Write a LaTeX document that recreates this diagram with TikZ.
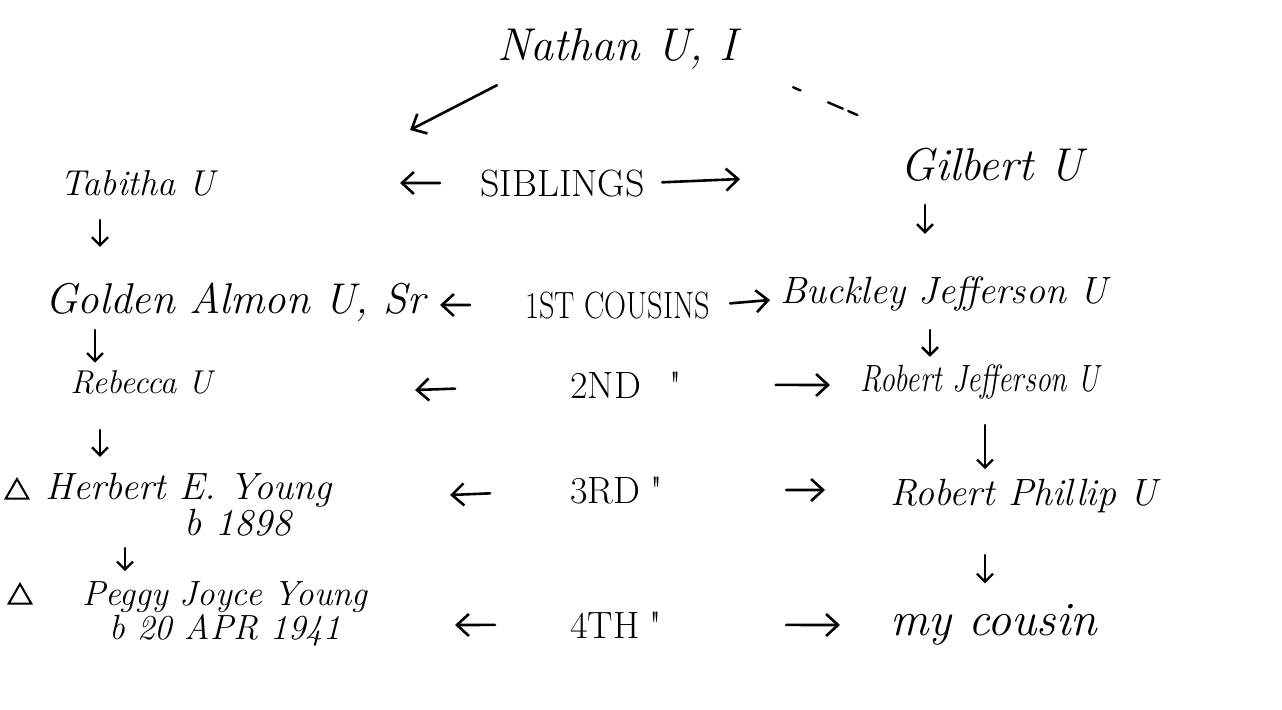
\documentclass[tikz,border=0pt]{standalone}
\usepackage{tikz}
\usetikzlibrary{arrows.meta, positioning, shapes.geometric}

\begin{document}
\begin{tikzpicture}[
    x=0.5pt, y=-0.5pt,
    person/.style={anchor=base west, inner sep=0pt, font=\fontsize{19}{16}\selectfont\itshape},
    kin/.style={anchor=base west, inner sep=0pt, font=\fontsize{19}{22}\selectfont},
    tri/.style={regular polygon, regular polygon sides=3, draw, line width=1pt,
                minimum size=13pt, inner sep=0pt},
    harr/.style={-{Straight Barb[length=6pt, width=11pt]}, line width=1.3pt, line cap=round},
    darr/.style={-{Straight Barb[length=4pt, width=8pt]}, line width=1.2pt, line cap=round},
    faint/.style={line width=1.2pt, line cap=round,
                  dash pattern=on 4pt off 15pt on 8pt off 3pt on 5pt off 40pt},
]
    \useasboundingbox (0,0) rectangle (1282,709);

    % Ancestor
    \node[person, anchor=base, font=\fontsize{23}{26}\selectfont\itshape] (nathan) at (617,60) {Nathan U, I};

    % Left line
    \node[person, font=\fontsize{18}{16}\selectfont\itshape] (tabitha) at (60,195) {Tabitha U};
    \node[person, font=\fontsize{21.5}{16}\selectfont\itshape] (golden) at (45,313) {Golden Almon U, Sr};
    \node[person, font=\fontsize{16.5}{16}\selectfont\itshape] (rebecca) at (70,393) {Rebecca U};
    \node[tri] (triH) at (17,492) {};
    \node[person, anchor=west, align=right] (herbert) at (45,505) {Herbert E. Young\\b 1898\hspace*{20pt}};
    \node[tri] (triP) at (20,597) {};
    \node[person, anchor=center, align=center, font=\fontsize{17.5}{16}\selectfont\itshape] (peggy) at (225,614) {Peggy Joyce Young\\b 20 APR 1941};

    % Right line
    \node[person, font=\fontsize{23}{16}\selectfont\itshape] (gilbert) at (900,180) {Gilbert U};
    \node[person] (buckley) at (780,303) {Buckley Jefferson U};
    \node[person] (robertj) at (860,391) {\scalebox{0.78}[1]{Robert Jefferson U}};
    \node[person] (robertp) at (890,505) {Robert Phillip U};
    \node[person, font=\fontsize{24}{16}\selectfont\itshape] (cousin) at (890,635) {my cousin};

    % Kinship
    \node[kin] (sibl) at (480,196) {SIBLINGS};
    \node[kin] (cous1) at (525,318) {\scalebox{0.8}[1]{1ST COUSINS}};
    \node[kin] (cous2) at (570,398) {2ND\hspace{14pt}\textquotedbl};
    \node[kin] (cous3) at (570,503) {3RD\hspace{5pt}\textquotedbl};
    \node[kin] (cous4) at (570,638) {4TH\hspace{5pt}\textquotedbl};

    % Arrow ends
    \coordinate (natL) at (410,130);
    \coordinate (natR) at (862,117);
    \coordinate (siblL) at (400,183);  \coordinate (siblR) at (740,179);
    \coordinate (cous1L) at (440,305); \coordinate (cous1R) at (770,300);
    \coordinate (cous2L) at (415,390); \coordinate (cous2R) at (830,385);
    \coordinate (cous3L) at (450,495); \coordinate (cous3R) at (825,490);
    \coordinate (cous4L) at (455,625); \coordinate (cous4R) at (840,625);

    % From the ancestor
    \draw[harr] ([yshift=-8pt]nathan.south west) -- (natL);
    \draw[faint] ([shift={(28pt,-9pt)}]nathan.south east) -- (natR);

    % Kinship arrows
    \draw[harr, shorten <=20pt] (sibl.west) -- (siblL);
    \draw[harr, shorten <=8.5pt] (sibl.east) -- (siblR);
    \draw[harr, shorten <=27.5pt] (cous1.west) -- (cous1L);
    \draw[harr, shorten <=10pt] (cous1.east) -- (cous1R);
    \draw[harr, shorten <=57.5pt] (cous2.west) -- (cous2L);
    \draw[harr, shorten <=47pt] (cous2.east) -- (cous2R);
    \draw[harr, shorten <=40pt] (cous3.west) -- (cous3L);
    \draw[harr, shorten <=61.5pt] (cous3.east) -- (cous3R);
    \draw[harr, shorten <=37.5pt] (cous4.west) -- (cous4L);
    \draw[harr, shorten <=62pt] (cous4.east) -- (cous4R);

    % Descent
    \draw[darr, shorten <=12.5pt, shorten >=17.5pt] ([xshift=20pt]tabitha.base west) -- ([xshift=20pt]tabitha.base west |- golden.north);
    \draw[darr, shorten <=8.5pt, shorten >=3.5pt] ([xshift=25pt]golden.base west) -- ([xshift=25pt]golden.base west |- rebecca.north);
    \draw[darr, shorten <=18.5pt, shorten >=8pt] ([xshift=15pt]rebecca.base west) -- ([xshift=15pt]rebecca.base west |- herbert.north);
    \draw[darr, shorten <=5.5pt, shorten >=5pt] ([xshift=40pt]herbert.south west) -- ([xshift=40pt]herbert.south west |- peggy.north);
    \draw[darr, shorten <=12.5pt, shorten >=21pt] ([xshift=12.5pt]gilbert.base west) -- ([xshift=12.5pt]gilbert.base west |- buckley.north);
    \draw[darr, shorten <=13.5pt, shorten >=3.5pt] ([xshift=75pt]buckley.base west) -- ([xshift=75pt]buckley.base west |- robertj.north);
    \draw[darr, shorten <=17pt, shorten >=4.5pt] ([xshift=62.5pt]robertj.base west) -- ([xshift=62.5pt]robertj.base west |- robertp.north);
    \draw[darr, shorten <=25pt, shorten >=10pt] ([xshift=47.5pt]robertp.base west) -- ([xshift=47.5pt]robertp.base west |- cousin.north);
\end{tikzpicture}
\end{document}
